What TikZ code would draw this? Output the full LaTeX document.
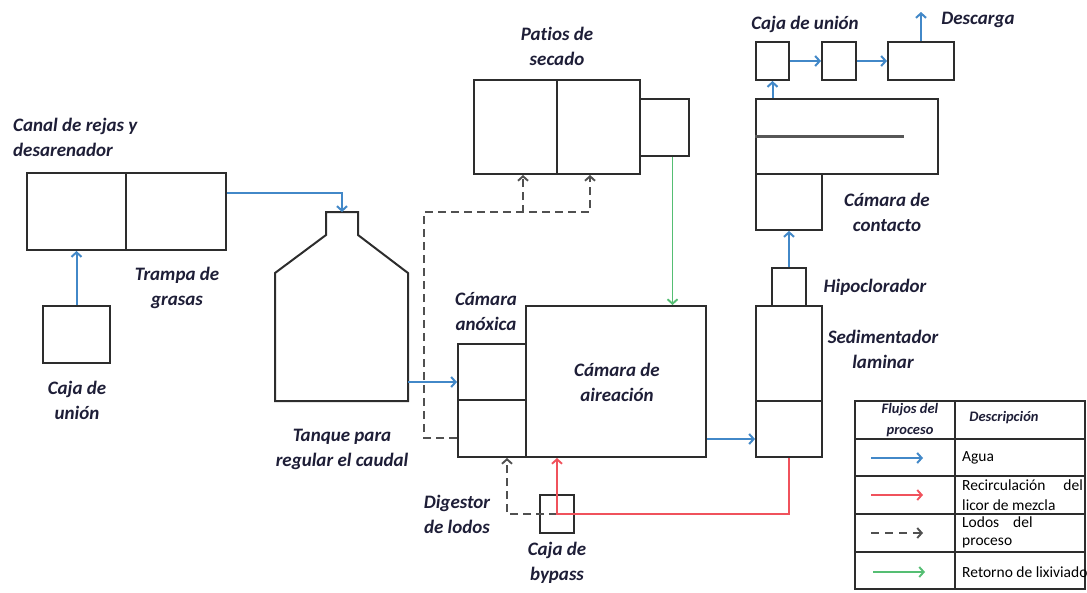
\documentclass[tikz,border=0pt]{standalone}
\usepackage{fontspec}
\setmainfont{Carlito}[Ligatures=NoCommon]
\usetikzlibrary{arrows.meta,calc}
\definecolor{cagua}{RGB}{66,136,200}
\definecolor{crojo}{RGB}{240,82,92}
\definecolor{cverde}{RGB}{85,190,115}
\definecolor{clodo}{RGB}{80,80,80}
\definecolor{clinea}{RGB}{45,45,45}
\definecolor{ctxt}{RGB}{30,30,55}
\begin{document}
\begin{tikzpicture}[x=1pt,y=-1pt,
  box/.style={draw=clinea,line width=2pt,inner sep=0pt},
  wh/.style 2 args={minimum width=#1pt,minimum height=#2pt},
  flecha/.style={-{Straight Barb[length=4.5pt,width=10pt]}},
  fagua/.style={draw=cagua,line width=2pt,flecha},
  frojo/.style={draw=crojo,line width=1.9pt,flecha},
  fverde/.style={draw=cverde,line width=1.9pt,flecha},
  flodo/.style={draw=clodo,line width=1.9pt,dash pattern=on 8pt off 5pt,flecha},
  lbl/.style={text=ctxt,font=\fontsize{19}{25}\selectfont\bfseries\itshape,align=center,inner sep=0pt},
  leg/.style={text=black,font=\fontsize{15.5}{20}\selectfont,inner sep=0pt,anchor=west},
  legh/.style={text=ctxt,font=\fontsize{14.5}{21}\selectfont\bfseries\itshape,align=center,inner sep=0pt},
]
\useasboundingbox (0,0) rectangle (1087,592);

% ---------- boxes ----------
\node[box,wh={99}{77}]  (rejas)  at (76.5,211.5) {};
\node[box,wh={100}{77}] (trampa) at (176,211.5) {};
\node[box,wh={67}{57}]  (cu1)    at (76.5,334.5) {};

\draw[clinea,line width=2pt] (326,212) -- (358,212) -- (358,235) -- (408,273) -- (408,401)
  -- (275,401) -- (275,273) -- (326,235) -- cycle;
\coordinate (tanktop) at (342,212);
\coordinate (tankout) at (408,382);

\node[box,wh={83}{94}] (patio1) at (515.5,127) {};
\node[box,wh={83}{94}] (patio2) at (598.5,127) {};
\node[box,wh={49}{57}] (patio3) at (664.5,127.5) {};

\node[box,wh={68}{56}]   (anox1) at (492,372) {};
\node[box,wh={68}{57}]   (anox2) at (492,428.5) {};
\node[box,wh={180}{151}] (aer)   at (616,381.5) {};

\node[box,wh={66}{95}] (sed1) at (789,353.5) {};
\node[box,wh={66}{56}] (sed2) at (789,429) {};
\node[box,wh={34}{38}] (hipo) at (789,287) {};

\node[box,wh={182}{75}] (cc1) at (847,136.5) {};
\node[box,wh={66}{56}]  (cc2) at (789,202) {};
\draw[draw=clinea!80,line width=2.2pt] (cc1.west) -- ($(cc1.west)+(149,0)$);

\node[box,wh={33}{38}] (cu2)  at (772.5,61) {};
\node[box,wh={34}{38}] (cu3)  at (839,61) {};
\node[box,wh={66}{38}] (desc) at (921,61) {};

\node[box,wh={34}{38}] (bypass) at (557,514) {};

% ---------- connectors ----------
\draw[fagua] (cu1.north) -- (cu1.north |- rejas.south);
\draw[fagua] ($(trampa.east)+(0,-18.5)$) -| (tanktop);
\draw[fagua] (tankout) -- (tankout -| anox1.west);
\draw[fagua] ($(aer.south east)+(0,-19)$) coordinate (aout) -- (aout -| sed2.west);
\draw[fagua] (hipo.north) -- (cc2.south);
\draw[fagua] (cu2.south |- cc1.north) -- (cu2.south);
\draw[fagua] (cu2.east) -- (cu3.west);
\draw[fagua] (cu3.east) -- (desc.west);
\draw[fagua] (desc.north) -- ++(0,-29) coordinate (descout);

\draw[fverde] ($(patio3.south)+(8,0)$) coordinate (gv) -- (gv |- aer.north);

\coordinate (lj) at (424,212);
\draw[flodo] ($(anox2.west)+(0,9.5)$) -| (lj) -| ($(patio2.south)+(-8.5,0)$);
\draw[flodo] ($(patio1.south)+(7.5,38)$) -- ($(patio1.south)+(7.5,0)$);
\draw[flodo] (bypass.center) -| ($(anox2.south)+(15,0)$);

\draw[frojo] (sed2.south) |- (bypass.center) -- (bypass.center |- aer.south);

% ---------- labels ----------
\node[lbl,align=left,anchor=west] (l1) at (13,137.5) {Canal de rejas y\\desarenador};
\node[lbl] (l2)  at (177,288)   {Trampa de\\grasas};
\node[lbl] (l3)  at (77,400)    {Caja de\\unión};
\node[lbl] (l4)  at (342,449.5) {Tanque para\\regular el caudal};
\node[lbl] (l5)  at (557,46.5)  {Patios de\\secado};
\node[lbl] (l6)  at (486,312)   {Cámara\\anóxica};
\node[lbl] (l7)  at (617,382)   {Cámara de\\aireación};
\node[lbl] (l8)  at (457,514)   {Digestor\\de lodos};
\node[lbl] (l9)  at (557,563)   {Caja de\\bypass};
\node[lbl] (l10) at (875,287)   {Hipoclorador};
\node[lbl] (l11) at (883,349)   {Sedimentador\\laminar};
\node[lbl] (l12) at (887,212)   {Cámara de\\contacto};
\node[lbl] (l13) at (805,24)    {Caja de unión};
\node[lbl] (l14) at (978,20)    {Descarga};

% ---------- legend ----------
\draw[clinea,line width=2pt] (855,401) rectangle (1085,589);
\draw[clinea,line width=2pt] (955,401) -- (955,589);
\foreach \yy in {439,476,514,552} \draw[clinea,line width=2pt] (855,\yy) -- (1085,\yy);
\node[legh] (h1) at (910,420) {Flujos del\\proceso};
\node[legh] (h2) at (1004,418) {Descripción};

\coordinate (la1) at (871,458); \coordinate (lb1) at (923,458);
\coordinate (la2) at (871,495); \coordinate (lb2) at (923,495);
\coordinate (la3) at (871,533); \coordinate (lb3) at (923,533);
\coordinate (la4) at (873,572); \coordinate (lb4) at (925,572);
\draw[fagua] (la1) -- (lb1);
\draw[frojo] (la2) -- (lb2);
\draw[flodo,dash pattern=on 8pt off 6pt] (la3) -- (lb3);
\draw[fverde] (la4) -- (lb4);

\node[leg] (t1) at (962,458) {Agua};
\node[leg] (t2a) at (962,485) {Recirculación};
\node[leg,anchor=east] (t2b) at (1083,485) {del};
\node[leg] (t2c) at (962,505) {licor de mezcla};
\node[leg] (t3a) at (962,522) {Lodos};
\node[leg] (t3b) at (1013,522) {del};
\node[leg] (t3c) at (962,543) {proceso};
\node[leg] (t4) at (962,572) {Retorno de lixiviado};
\end{tikzpicture}
\end{document}
